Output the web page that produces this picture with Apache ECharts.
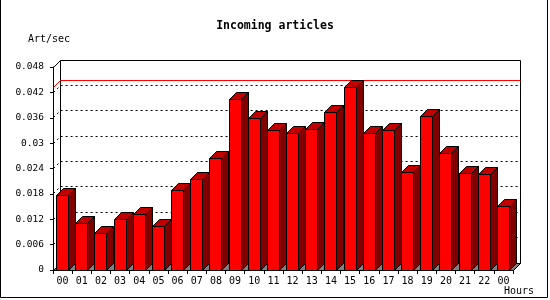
<!DOCTYPE html>
<html><head><meta charset="utf-8">
<script src="https://cdn.jsdelivr.net/npm/echarts@6/dist/echarts.min.js"></script>
<style>html,body{margin:0;padding:0;background:#fff}#c{width:550px;height:300px}</style>
</head><body><div id="c"></div>
<script>
// ---- data ----
const hours = ['00','01','02','03','04','05','06','07','08','09','10','11','12','13','14','15','16','17','18','19','20','21','22','00'];
const rates = [0.0177, 0.0109, 0.0087, 0.0120, 0.0132, 0.0104, 0.0189, 0.0215, 0.0264, 0.0404, 0.0358, 0.0331,
               0.0323, 0.0333, 0.0372, 0.0432, 0.0323, 0.0331, 0.0231, 0.0363, 0.0275, 0.0228, 0.0226, 0.0151];
const gridValues = [0.006, 0.012, 0.018, 0.024, 0.03, 0.036, 0.042];
const yMin = 0, yMax = 0.048, yStep = 0.006;
const maxRate = Math.max.apply(null, rates);
const titleText = 'Incoming articles';
const yUnit = 'Art/sec';
const xUnit = 'Hours';

// ---- style ----
const DEPTH = 7;
const FONT = 'DejaVu Sans Mono';
const px = v => Math.round(v - 0.5) + 0.5;

function renderWalls(params, api) {
  const cs = params.coordSys;
  const x0 = px(cs.x), x1 = px(cs.x + cs.width), yT = px(cs.y), yB = px(cs.y + cs.height);
  const d = DEPTH;
  return { type: 'group', children: [
    { type: 'rect', shape: { x: x0 + d, y: yT - d, width: x1 - x0, height: yB - yT },
      style: { fill: '#fff', stroke: '#000', lineWidth: 1 } },
    { type: 'polygon', shape: { points: [[x0, yB], [x1, yB], [x1 + d, yB - d], [x0 + d, yB - d]] },
      style: { fill: '#808080', stroke: '#000', lineWidth: 1 } },
    { type: 'line', shape: { x1: x0, y1: yT, x2: x0 + d, y2: yT - d }, style: { stroke: '#000', lineWidth: 1 } }
  ]};
}

function makeLineRenderer(color, dash) {
  return function (params, api) {
    const cs = params.coordSys;
    const y = px(api.coord([0, api.value(1)])[1]);
    const x0 = px(cs.x), x1 = px(cs.x + cs.width);
    const d = DEPTH;
    return { type: 'polyline', shape: { points: [[x0, y], [x0 + d, y - d], [x1 + d, y - d]] },
      style: { stroke: color, lineWidth: 1, lineDash: dash, fill: null } };
  };
}

function renderBar(params, api) {
  const i = api.value(0), v = api.value(1);
  const base = api.coord([i, 0]), top = api.coord([i, v]);
  const bw = api.size([1, 0])[0] * 0.62;
  const xl = px(base[0] - bw / 2), xr = px(base[0] + bw / 2);
  const yb = px(base[1]), yt = px(top[1]);
  const d = DEPTH;
  return { type: 'group', children: [
    { type: 'polygon', shape: { points: [[xr, yt], [xr + d, yt - d], [xr + d, yb - d], [xr, yb]] },
      style: { fill: '#800000', stroke: '#000', lineWidth: 1 } },
    { type: 'polygon', shape: { points: [[xl, yt], [xl + d, yt - d], [xr + d, yt - d], [xr, yt]] },
      style: { fill: '#c00000', stroke: '#000', lineWidth: 1 } },
    { type: 'rect', shape: { x: xl, y: yt, width: xr - xl, height: yb - yt },
      style: { fill: '#ff0000', stroke: '#000', lineWidth: 1 } }
  ]};
}

const chart = echarts.init(document.getElementById('c'), null, { renderer: 'canvas' });
chart.setOption({
  animation: false,
  backgroundColor: '#fff',
  title: [
    { text: titleText, left: 'center', top: 20, padding: 0,
      textStyle: { fontFamily: FONT, fontWeight: 'bold', fontSize: 11.5, color: '#000' } },
    { text: yUnit, left: 28, top: 34, padding: 0,
      textStyle: { fontFamily: FONT, fontWeight: 'normal', fontSize: 10, color: '#000' } },
    { text: xUnit, left: 504, top: 286, padding: 0,
      textStyle: { fontFamily: FONT, fontWeight: 'normal', fontSize: 10, color: '#000' } }
  ],
  graphic: [
    { type: 'polyline', shape: { points: [[0.5, 0], [0.5, 297.5], [547.5, 297.5], [547.5, 0]] },
      style: { stroke: '#000', lineWidth: 1, fill: null } }
  ],
  grid: { left: 53, top: 67, width: 460, height: 203, containLabel: false },
  xAxis: {
    type: 'category', data: hours, boundaryGap: true,
    axisLine: { show: true, lineStyle: { color: '#000', width: 1 } },
    axisTick: { show: true, length: 4, lineStyle: { color: '#000' } },
    axisLabel: { fontFamily: FONT, fontSize: 10, color: '#000', margin: 6, interval: 0 },
    splitLine: { show: false }
  },
  yAxis: {
    type: 'value', min: yMin, max: yMax, interval: yStep,
    axisLine: { show: true, lineStyle: { color: '#000', width: 1 } },
    axisTick: { show: true, length: 3, lineStyle: { color: '#000' } },
    axisLabel: { fontFamily: FONT, fontSize: 9.5, color: '#000', margin: 9 },
    splitLine: { show: false }
  },
  series: [
    { type: 'custom', name: 'walls', coordinateSystem: 'cartesian2d', clip: false, silent: true,
      data: [[0, 0]], renderItem: renderWalls },
    { type: 'custom', name: 'grid', coordinateSystem: 'cartesian2d', clip: false, silent: true,
      data: gridValues.map(v => [0, v]), renderItem: makeLineRenderer('#000', [2, 3]) },
    { type: 'custom', name: 'max', coordinateSystem: 'cartesian2d', clip: false, silent: true,
      data: [[0, maxRate]], renderItem: makeLineRenderer('#ff0000', null) },
    { type: 'custom', name: 'rate', coordinateSystem: 'cartesian2d', clip: false,
      encode: { x: 0, y: 1 },
      data: rates.map((v, i) => [i, v]), renderItem: renderBar }
  ]
});
</script>
</body></html>
